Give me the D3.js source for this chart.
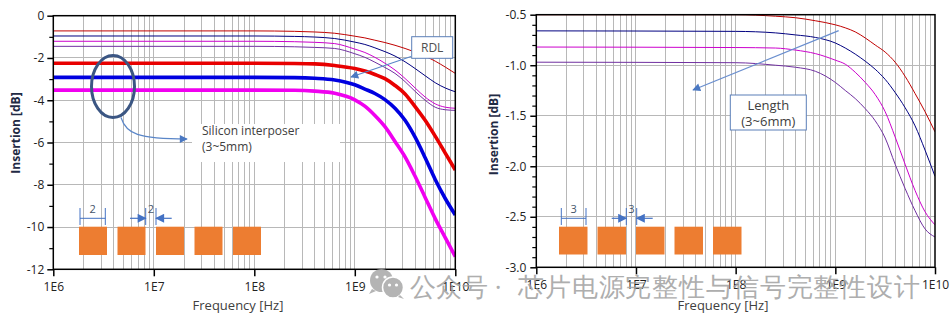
<!DOCTYPE html>
<html><head><meta charset="utf-8">
<script src="https://cdn.jsdelivr.net/npm/d3@7/dist/d3.min.js"></script>
<style>body{margin:0;background:#fff} svg{display:block} text{font-family:"Open Sans","Noto Sans",sans-serif}</style>
</head><body><svg id="c" width="952" height="324"></svg>
<script>
// ---------------- data ----------------
const freqDecades = [1e6, 1e7, 1e8, 1e9, 1e10];
const xTickLabels = ["1E6", "1E7", "1E8", "1E9", "1E10"];
const leftYTicks = [0, -2, -4, -6, -8, -10, -12];
const leftYTickLabels = ["0", "-2", "-4", "-6", "-8", "-10", "-12"];
const leftYMinor = [-1, -3, -5, -7, -9, -11];
const rightYTicks = [-0.5, -1.0, -1.5, -2.0, -2.5, -3.0];
const rightYTickLabels = ["-0.5", "-1.0", "-1.5", "-2.0", "-2.5", "-3.0"];
const rightYMinor = [-0.6,-0.7,-0.8,-0.9,-1.1,-1.2,-1.3,-1.4,-1.6,-1.7,-1.8,-1.9,-2.1,-2.2,-2.3,-2.4,-2.6,-2.7,-2.8,-2.9];

// left chart: log10(frequency [Hz]) and insertion [dB]
const leftFreqExp = [6, 8.0, 8.4, 8.6, 8.8, 9.0, 9.1, 9.2, 9.3, 9.4, 9.5, 9.6, 9.7, 9.8, 9.9, 10];
const siRed      = [-2.25, -2.25, -2.26, -2.28, -2.36, -2.50, -2.62, -2.78, -2.98, -3.30, -3.70, -4.30, -4.95, -5.70, -6.50, -7.30];
const siBlue     = [-2.92, -2.92, -2.93, -2.96, -3.04, -3.27, -3.47, -3.68, -3.97, -4.38, -4.95, -5.75, -6.72, -7.75, -8.65, -9.43];
const siMagenta  = [-3.52, -3.52, -3.53, -3.57, -3.67, -3.98, -4.28, -4.72, -5.25, -5.95, -6.68, -7.60, -8.60, -9.60, -10.50, -11.40];
const rdlRed     = [-0.72, -0.72, -0.74, -0.77, -0.83, -0.97, -1.05, -1.16, -1.27, -1.40, -1.55, -1.72, -1.92, -2.15, -2.43, -2.73];
const rdlBlue    = [-0.96, -0.96, -0.98, -1.01, -1.08, -1.25, -1.36, -1.52, -1.70, -1.91, -2.18, -2.50, -2.84, -3.17, -3.42, -3.60];
const rdlMagenta = [-1.21, -1.21, -1.23, -1.26, -1.32, -1.58, -1.74, -1.97, -2.25, -2.57, -2.97, -3.42, -3.85, -4.17, -4.33, -4.38];
const rdlPurple  = [-1.45, -1.45, -1.47, -1.50, -1.55, -1.80, -1.97, -2.20, -2.45, -2.73, -3.12, -3.58, -4.00, -4.33, -4.45, -4.48];

// right chart
const rightFreqExp = [6, 8.0, 8.4, 8.6, 8.8, 9.0, 9.1, 9.2, 9.3, 9.4, 9.5, 9.6, 9.7, 9.8, 9.9, 10];
const lenRed     = [-0.50, -0.50, -0.515, -0.53, -0.56, -0.60, -0.63, -0.67, -0.73, -0.80, -0.87, -0.97, -1.11, -1.28, -1.46, -1.66];
const lenBlue    = [-0.66, -0.665, -0.68, -0.70, -0.725, -0.78, -0.83, -0.89, -0.96, -1.04, -1.14, -1.27, -1.42, -1.60, -1.84, -2.10];
const lenMagenta = [-0.82, -0.825, -0.83, -0.85, -0.885, -0.95, -0.99, -1.07, -1.17, -1.29, -1.46, -1.71, -1.98, -2.24, -2.45, -2.58];
const lenPurple  = [-0.97, -0.975, -1.00, -1.02, -1.06, -1.17, -1.25, -1.33, -1.43, -1.55, -1.72, -1.98, -2.22, -2.44, -2.62, -2.70];

// ---------------- drawing ----------------
const svg = d3.select("#c");
svg.append("rect").attr("width", 952).attr("height", 324).attr("fill", "#fff");
const defs = svg.append("defs");
defs.append("marker").attr("id", "ah").attr("viewBox", "0 0 10 10")
  .attr("refX", 9).attr("refY", 5).attr("markerWidth", 9).attr("markerHeight", 8)
  .attr("markerUnits", "userSpaceOnUse").attr("orient", "auto")
  .append("path").attr("d", "M0,0 L10,5 L0,10 z").attr("fill", "#4a78c2");
defs.append("marker").attr("id", "ah2").attr("viewBox", "0 0 10 10")
  .attr("refX", 9).attr("refY", 5).attr("markerWidth", 10).attr("markerHeight", 9)
  .attr("markerUnits", "userSpaceOnUse").attr("orient", "auto")
  .append("path").attr("d", "M0,0 L10,5 L0,10 z").attr("fill", "#4472c4");

function panel(o) {
  const g = svg.append("g");
  const x = d3.scaleLog().domain([1e6, 1e10]).range([o.x0, o.x1]);
  const y = d3.scaleLinear().domain([o.yTop, o.yBot]).range([o.y0, o.y1]);
  const grid = "#b8b8b8";
  const vg = [];
  for (let e = 6; e < 10; e++) for (let m = 1; m <= 9; m++) vg.push(m * Math.pow(10, e));
  g.append("g").selectAll("line").data(vg.filter(v => v > 1e6)).join("line")
    .attr("x1", d => x(d)).attr("x2", d => x(d)).attr("y1", o.y0).attr("y2", o.y1)
    .attr("stroke", grid).attr("stroke-width", 1).attr("shape-rendering", "crispEdges");
  g.append("g").selectAll("line").data(o.majors.slice(1, -1)).join("line")
    .attr("x1", o.x0).attr("x2", o.x1).attr("y1", d => y(d)).attr("y2", d => y(d))
    .attr("stroke", grid).attr("stroke-width", 1).attr("shape-rendering", "crispEdges");
  if (o.before) o.before(g, x, y);
  const clipId = "clip" + o.id;
  defs.append("clipPath").attr("id", clipId).append("rect")
    .attr("x", o.x0).attr("y", o.y0 - 1).attr("width", o.x1 - o.x0).attr("height", o.y1 - o.y0 + 1);
  const line = d3.line().x(d => x(Math.pow(10, d[0]))).y(d => y(d[1])).curve(d3.curveMonotoneX);
  const lg = g.append("g").attr("clip-path", `url(#${clipId})`);
  o.series.forEach(s => {
    lg.append("path").datum(o.fx.map((f, i) => [f, s.v[i]])).attr("d", line)
      .attr("fill", "none").attr("stroke", s.c).attr("stroke-width", s.w)
      .attr("stroke-linejoin", "round");
  });
  g.append("rect").attr("x", o.x0).attr("y", o.y0).attr("width", o.x1 - o.x0).attr("height", o.y1 - o.y0)
    .attr("fill", "none").attr("stroke", "#000").attr("stroke-width", 1.5);
  const xa = g.append("g").attr("transform", `translate(0,${o.y1})`)
    .call(d3.axisBottom(x).tickValues(freqDecades).tickFormat((d, i) => xTickLabels[i]).tickSize(7).tickPadding(6));
  xa.select(".domain").remove();
  xa.selectAll("line").attr("stroke", "#000").attr("stroke-width", 1.5);
  xa.selectAll("text").attr("font-size", 12).attr("fill", "#222").attr("font-family", "Open Sans");
  const ya = g.append("g").attr("transform", `translate(${o.x0},0)`)
    .call(d3.axisLeft(y).tickValues(o.majors).tickFormat((d, i) => o.labels[i]).tickSize(6).tickPadding(o.pad));
  ya.select(".domain").remove();
  ya.selectAll("line").attr("stroke", "#000").attr("stroke-width", 1.5);
  ya.selectAll("text").attr("font-size", 12).attr("fill", "#222").attr("font-family", "Open Sans");
  const ym = g.append("g").attr("transform", `translate(${o.x0},0)`)
    .call(d3.axisLeft(y).tickValues(o.minors).tickFormat("").tickSize(4));
  ym.select(".domain").remove();
  ym.selectAll("line").attr("stroke", "#000").attr("stroke-width", 1.2);
  g.append("text").attr("x", o.xt).attr("y", 310).attr("text-anchor", "middle")
    .attr("font-size", 13).attr("fill", "#404040").text("Frequency [Hz]");
  g.append("text").attr("transform", `translate(${o.yt},${o.ytc}) rotate(-90)`).attr("text-anchor", "middle")
    .attr("font-size", 12).attr("font-weight", "bold").attr("fill", "#1f2a44").text("Insertion [dB]");
  return { g, x, y };
}

panel({
  id: "L", x0: 53.3, x1: 455.3, y0: 15.7, y1: 269.3, yTop: 0, yBot: -12,
  majors: leftYTicks, labels: leftYTickLabels, minors: leftYMinor, pad: 3,
  fx: leftFreqExp, xt: 238, yt: 20, ytc: 133,
  series: [
    { v: rdlRed, c: "#c00000", w: 1 },
    { v: rdlBlue, c: "#000080", w: 1 },
    { v: rdlMagenta, c: "#cc00cc", w: 1 },
    { v: rdlPurple, c: "#7030a0", w: 1 },
    { v: siRed, c: "#e80000", w: 3.6 },
    { v: siBlue, c: "#0000e0", w: 3.6 },
    { v: siMagenta, c: "#f000f0", w: 3.6 }
  ],
  before: (g) => {
    g.append("rect").attr("x", 192).attr("y", 124).attr("width", 148).attr("height", 38).attr("fill", "#fff");
  }
});

panel({
  id: "R", x0: 536.3, x1: 935, y0: 14.7, y1: 267.3, yTop: -0.5, yBot: -3.0,
  majors: rightYTicks, labels: rightYTickLabels, minors: rightYMinor, pad: 4,
  fx: rightFreqExp, xt: 723, yt: 498, ytc: 134.5,
  series: [
    { v: lenRed, c: "#c00000", w: 1 },
    { v: lenBlue, c: "#000080", w: 1 },
    { v: lenMagenta, c: "#cc00cc", w: 1 },
    { v: lenPurple, c: "#7030a0", w: 1 }
  ]
});

const ann = svg.append("g");
ann.append("ellipse").attr("cx", 113).attr("cy", 86.5).attr("rx", 21.5).attr("ry", 31)
  .attr("fill", "none").attr("stroke", "#3b5683").attr("stroke-width", 3);
ann.append("path").attr("d", "M121,117.5 C126,134 138,139 187,139")
  .attr("fill", "none").attr("stroke", "#5a86c8").attr("stroke-width", 1.2).attr("marker-end", "url(#ah)");
ann.append("text").attr("x", 202).attr("y", 135).attr("font-size", 12).attr("fill", "#404040").text("Silicon interposer");
ann.append("text").attr("x", 202).attr("y", 151).attr("font-size", 12).attr("fill", "#404040").text("(3~5mm)");

ann.append("line").attr("x1", 411).attr("y1", 56.5).attr("x2", 351).attr("y2", 77)
  .attr("stroke", "#5a86c8").attr("stroke-width", 1.2).attr("marker-end", "url(#ah)");
ann.append("rect").attr("x", 411.7).attr("y", 36.7).attr("width", 41).attr("height", 21.6)
  .attr("fill", "#fff").attr("stroke", "#5b7fb8").attr("stroke-width", 1);
ann.append("text").attr("x", 432.2).attr("y", 52).attr("text-anchor", "middle").attr("font-size", 12)
  .attr("fill", "#505050").text("RDL");

ann.append("line").attr("x1", 838.7).attr("y1", 30.7).attr("x2", 693).attr("y2", 90)
  .attr("stroke", "#6a8fcf").attr("stroke-width", 1.3).attr("marker-end", "url(#ah)");
ann.append("rect").attr("x", 730.3).attr("y", 95).attr("width", 76).attr("height", 35)
  .attr("fill", "#fff").attr("stroke", "#5b7fb8").attr("stroke-width", 1);
ann.append("text").attr("x", 768.3).attr("y", 109.5).attr("text-anchor", "middle").attr("font-size", 13)
  .attr("fill", "#404040").text("Length");
ann.append("text").attr("x", 768.3).attr("y", 125.5).attr("text-anchor", "middle").attr("font-size", 13)
  .attr("fill", "#404040").text("(3~6mm)");

function pads(startX, pitch, w, y0, h) {
  for (let i = 0; i < 5; i++) {
    ann.append("rect").attr("x", startX + i * pitch).attr("y", y0).attr("width", w).attr("height", h).attr("fill", "#ed7d31");
  }
}
pads(79, 38.5, 28, 226.7, 28.3);
pads(559, 38.5, 28.5, 226.7, 27.8);

function dims(a, b, c, d, e, f, label) {
  const col = "#4472c4", yl = 218.3;
  const v = xx => ann.append("line").attr("x1", xx).attr("x2", xx).attr("y1", 208).attr("y2", 225)
    .attr("stroke", col).attr("stroke-width", 1);
  v(a); v(b); v(d); v(e);
  ann.append("line").attr("x1", a).attr("x2", b).attr("y1", yl).attr("y2", yl).attr("stroke", col).attr("stroke-width", 1);
  ann.append("line").attr("x1", c).attr("x2", d).attr("y1", yl).attr("y2", yl).attr("stroke", col)
    .attr("stroke-width", 1.2).attr("marker-end", "url(#ah2)");
  ann.append("line").attr("x1", f).attr("x2", e).attr("y1", yl).attr("y2", yl).attr("stroke", col)
    .attr("stroke-width", 1.2).attr("marker-end", "url(#ah2)");
  ann.append("text").attr("x", (a + b) / 2).attr("y", 213).attr("text-anchor", "middle").attr("font-size", 11)
    .attr("fill", "#44546a").text(label);
  ann.append("text").attr("x", (d + e) / 2).attr("y", 213).attr("text-anchor", "middle").attr("font-size", 11)
    .attr("fill", "#44546a").text(label);
}
dims(80, 105.3, 130, 145.7, 156, 171.7, "2");
dims(561.3, 586, 611.7, 626.3, 636.7, 652.7, "3");

const wm = svg.append("g").attr("opacity", 0.85);
wm.append("circle").attr("cx", 381.5).attr("cy", 280.5).attr("r", 11.5).attr("fill", "#a8a8a8");
wm.append("path").attr("d", "M372,289 l-3,5 l7,-3 z").attr("fill", "#a8a8a8");
wm.append("circle").attr("cx", 393).attr("cy", 287.5).attr("r", 10.5).attr("fill", "#a8a8a8").attr("stroke", "#fff").attr("stroke-width", 1.5);
wm.append("path").attr("d", "M400,295 l4,4 l-6,-2 z").attr("fill", "#a8a8a8");
[[377, 277], [385, 277], [389.5, 285], [396.5, 285]].forEach(p =>
  wm.append("circle").attr("cx", p[0]).attr("cy", p[1]).attr("r", 1.6).attr("fill", "#fff"));
wm.append("text").attr("x", 410).attr("y", 296).attr("font-size", 26)
  .attr("font-family", "'Noto Sans CJK SC'").attr("fill", "#a0a0a0").text("公众号 ·");
wm.append("text").attr("x", 518).attr("y", 296).attr("font-size", 26).attr("textLength", 402)
  .attr("font-family", "'Noto Sans CJK SC'").attr("fill", "#a0a0a0").text("芯片电源完整性与信号完整性设计");
</script></body></html>
